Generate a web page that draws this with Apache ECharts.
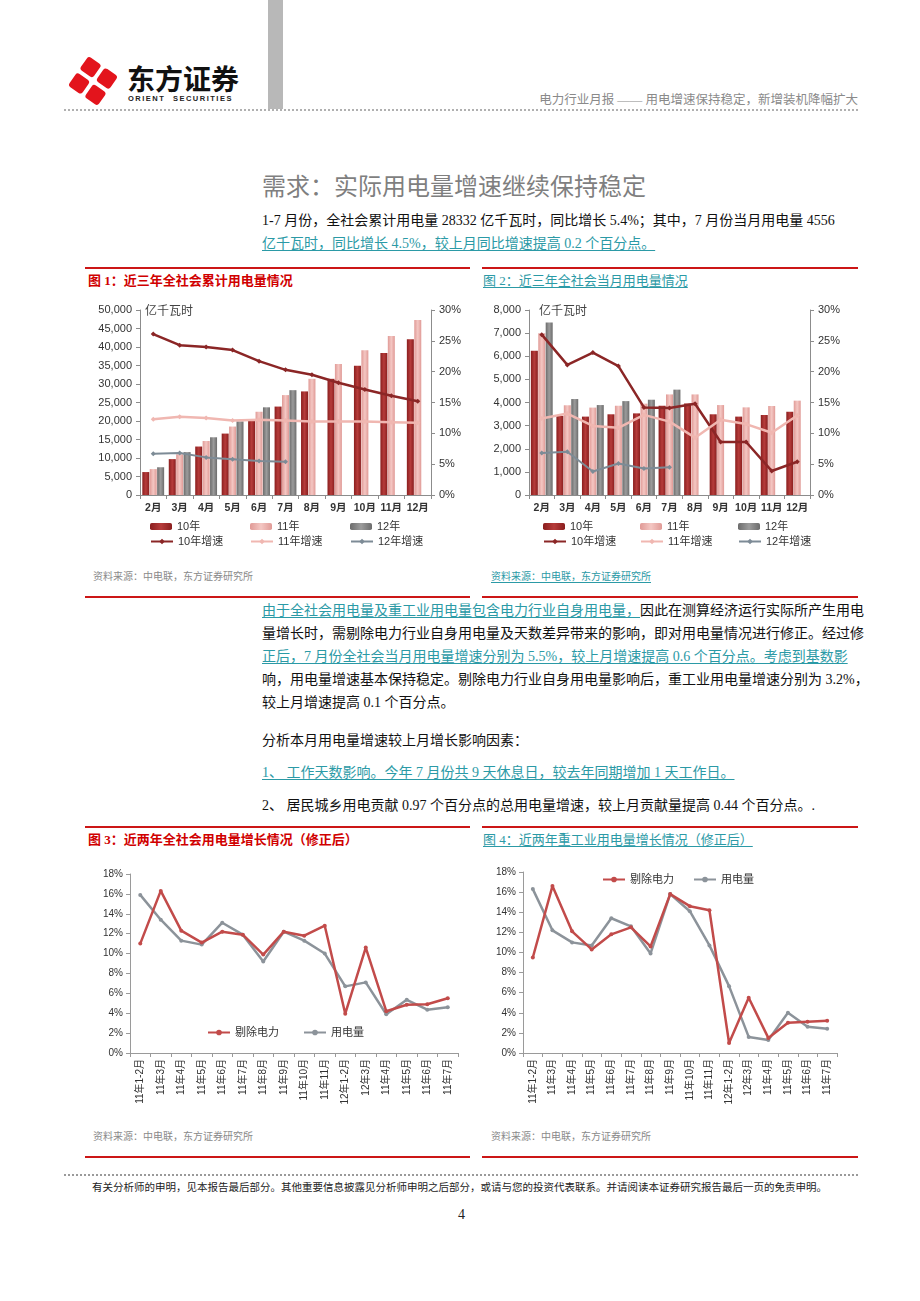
<!DOCTYPE html>
<html>
<head>
<meta charset="utf-8">
<script src="https://cdn.jsdelivr.net/npm/echarts@6/dist/echarts.min.js"></script>
<style>
html,body{margin:0;padding:0;background:#fff;}
#page{position:relative;width:920px;height:1301px;overflow:hidden;background:#fff;font-family:"Liberation Serif","Noto Sans CJK SC",serif;}
.t{position:absolute;white-space:nowrap;font-size:14px;line-height:20px;height:20px;color:#111;}
.u{color:#2B9AA6;text-decoration:underline;text-decoration-color:#2B9AA6;text-underline-offset:2px;}
.j{width:596px;text-align:justify;text-align-last:justify;}
.red{position:absolute;height:2px;background:#CC1616;}
.src{position:absolute;white-space:nowrap;font-size:10px;line-height:14px;color:#8a8a8a;}
.ft{position:absolute;white-space:nowrap;font-size:13px;line-height:20px;}
.ch{position:absolute;}
</style>
</head>
<body>
<div id="page">
  <!-- header -->
  <svg style="position:absolute;left:65px;top:53px" width="56" height="56" viewBox="0 0 56 56">
    <g transform="rotate(35 28 28)">
      <rect x="10" y="10" width="16" height="16" rx="3" fill="#E3141C"/>
      <rect x="30" y="10" width="16" height="16" rx="3" fill="#E3141C"/>
      <rect x="10" y="30" width="16" height="16" rx="3" fill="#E3141C"/>
      <rect x="30" y="30" width="16" height="16" rx="3" fill="#E3141C"/>
    </g>
  </svg>
  <div style="position:absolute;left:127px;top:61px;font-family:'Noto Sans CJK SC';font-weight:bold;font-size:28px;line-height:34px;color:#111;white-space:nowrap;">东方证券</div>
  <div style="position:absolute;left:128px;top:94px;font-family:'Liberation Sans';font-weight:bold;font-size:7.5px;line-height:9px;letter-spacing:1.5px;word-spacing:4px;color:#222;white-space:nowrap;">ORIENT SECURITIES</div>
  <div style="position:absolute;left:268px;top:0;width:15px;height:109px;background:#B8B8B8;"></div>
  <div style="position:absolute;right:62px;top:91px;font-size:12.5px;line-height:18px;color:#8a8a8a;white-space:nowrap;font-family:'Liberation Serif','Noto Sans CJK SC';">电力行业月报 —— 用电增速保持稳定，新增装机降幅扩大</div>
  <div style="position:absolute;left:64px;top:109px;width:794px;height:0;border-top:2px dotted #b0b0b0;"></div>

  <!-- title & paragraph 1 -->
  <div style="position:absolute;left:262px;top:170px;font-family:'Noto Sans CJK SC';font-size:24px;line-height:30px;color:#7f7f7f;white-space:nowrap;">需求：实际用电量增速继续保持稳定</div>
  <div class="t" style="left:262px;top:211px;">1-7 月份，全社会累计用电量 28332 亿千瓦时，同比增长 5.4%；其中，7 月份当月用电量 4556</div>
  <div class="t" style="left:262px;top:234px;"><span class="u">亿千瓦时，同比增长 4.5%，较上月同比增速提高 0.2 个百分点。</span></div>

  <div class="red" style="left:85px;top:267px;width:385px;"></div>
  <div class="red" style="left:482px;top:267px;width:376px;"></div>
  <div class="ft" style="left:88px;top:271px;color:#D00000;font-weight:bold;">图 1：近三年全社会累计用电量情况</div>
  <div class="ft" style="left:483px;top:271px;"><span class="u">图 2：近三年全社会当月用电量情况</span></div>

  <div id="c1" class="ch" style="left:88px;top:295px;width:385px;height:265px;"></div>
  <div id="c2" class="ch" style="left:480px;top:295px;width:380px;height:265px;"></div>

  <div class="src" style="left:93px;top:570px;">资料来源：中电联，东方证券研究所</div>
  <div class="src" style="left:491px;top:570px;"><span class="u">资料来源：中电联，东方证券研究所</span></div>
  <div class="red" style="left:85px;top:596px;width:385px;"></div>
  <div class="red" style="left:482px;top:596px;width:376px;"></div>

  <!-- paragraph 2 -->
  <div class="t j" style="left:262px;top:601px;"><span class="u">由于全社会用电量及重工业用电量包含电力行业自身用电量，</span>因此在测算经济运行实际所产生用电</div>
  <div class="t j" style="left:262px;top:624px;">量增长时，需剔除电力行业自身用电量及天数差异带来的影响，即对用电量情况进行修正。经过修</div>
  <div class="t" style="left:262px;top:647px;"><span class="u">正后，7 月份全社会当月用电量增速分别为 5.5%，较上月增速提高 0.6 个百分点。考虑到基数影</span></div>
  <div class="t j" style="left:262px;top:670px;">响，用电量增速基本保持稳定。剔除电力行业自身用电量影响后，重工业用电量增速分别为 3.2%，</div>
  <div class="t" style="left:262px;top:693px;">较上月增速提高 0.1 个百分点。</div>
  <div class="t" style="left:262px;top:731px;">分析本月用电量增速较上月增长影响因素：</div>
  <div class="t" style="left:262px;top:763px;"><span class="u">1、 工作天数影响。今年 7 月份共 9 天休息日，较去年同期增加 1 天工作日。</span></div>
  <div class="t" style="left:262px;top:796px;">2、 居民城乡用电贡献 0.97 个百分点的总用电量增速，较上月贡献量提高 0.44 个百分点。.</div>

  <div class="red" style="left:85px;top:826px;width:385px;"></div>
  <div class="red" style="left:482px;top:826px;width:376px;"></div>
  <div class="ft" style="left:88px;top:830px;color:#D00000;font-weight:bold;">图 3：近两年全社会用电量增长情况（修正后）</div>
  <div class="ft" style="left:483px;top:830px;"><span class="u">图 4：近两年重工业用电量增长情况（修正后）</span></div>

  <div id="c3" class="ch" style="left:88px;top:855px;width:385px;height:260px;"></div>
  <div id="c4" class="ch" style="left:480px;top:855px;width:380px;height:260px;"></div>

  <div class="src" style="left:93px;top:1130px;">资料来源：中电联，东方证券研究所</div>
  <div class="src" style="left:491px;top:1130px;">资料来源：中电联，东方证券研究所</div>
  <div class="red" style="left:85px;top:1156px;width:385px;"></div>
  <div class="red" style="left:482px;top:1156px;width:376px;"></div>

  <div style="position:absolute;left:64px;top:1174px;width:794px;height:0;border-top:2px dotted #9a9a9a;"></div>
  <div style="position:absolute;left:92px;top:1180px;font-size:10.5px;line-height:16px;color:#222;white-space:nowrap;">有关分析师的申明，见本报告最后部分。其他重要信息披露见分析师申明之后部分，或请与您的投资代表联系。并请阅读本证券研究报告最后一页的免责申明。</div>
  <div style="position:absolute;left:458px;top:1206px;font-size:14px;line-height:18px;color:#222;">4</div>
</div>

<script>
// ---------- Data ----------
const months = ['2月','3月','4月','5月','6月','7月','8月','9月','10月','11月','12月'];
// Figure 1: cumulative consumption (亿千瓦时) and cumulative growth (%)
const cum10 = [6200, 9700, 13100, 16600, 20200, 23900, 28000, 31400, 34900, 38400, 42100];
const cum11 = [7000, 11000, 14600, 18500, 22500, 27000, 31400, 35400, 39100, 43000, 47300];
const cum12 = [7500, 11600, 15600, 19900, 23700, 28332];
const cumG10 = [26.1, 24.3, 24.0, 23.5, 21.7, 20.3, 19.5, 18.2, 17.1, 16.1, 15.2];
const cumG11 = [12.3, 12.7, 12.5, 12.1, 12.2, 12.1, 11.9, 11.9, 11.9, 11.8, 11.7];
const cumG12 = [6.7, 6.8, 6.1, 5.8, 5.5, 5.4];
// Figure 2: monthly consumption (亿千瓦时) and monthly growth (%)
const mon10 = [6240, 3420, 3390, 3490, 3530, 3860, 3960, 3490, 3390, 3460, 3600];
const mon11 = [6990, 3880, 3780, 3860, 3950, 4350, 4350, 3890, 3790, 3850, 4080];
const mon12 = [7460, 4150, 3890, 4060, 4120, 4556];
const monG10 = [26.0, 21.1, 23.1, 20.9, 14.2, 14.1, 14.8, 8.6, 8.6, 3.9, 5.4];
const monG11 = [12.4, 13.2, 11.2, 10.9, 13.0, 11.9, 9.3, 12.2, 11.5, 10.1, 12.9];
const monG12 = [6.8, 7.0, 3.8, 5.1, 4.3, 4.5];
// Figures 3 & 4: corrected growth (%)
const periods = ['11年1-2月','11年3月','11年4月','11年5月','11年6月','11年7月','11年8月','11年9月','11年10月','11年11月','12年1-2月','12年3月','11年4月','11年5月','11年6月','11年7月'];
const totalExPower = [11.0, 16.3, 12.3, 11.1, 12.2, 11.9, 9.9, 12.2, 11.8, 12.8, 3.95, 10.6, 4.2, 4.85, 4.9, 5.5];
const totalRaw     = [15.9, 13.4, 11.3, 10.9, 13.1, 11.9, 9.2, 12.2, 11.3, 10.0, 6.7, 7.1, 3.9, 5.35, 4.35, 4.6];
const heavyExPower = [9.5, 16.6, 12.1, 10.3, 11.8, 12.5, 10.6, 15.8, 14.6, 14.2, 1.0, 5.5, 1.5, 3.0, 3.1, 3.2];
const heavyRaw     = [16.3, 12.2, 11.0, 10.7, 13.4, 12.6, 9.9, 15.8, 14.1, 10.7, 6.65, 1.6, 1.3, 4.0, 2.6, 2.4];
const unitLabel = '亿千瓦时';

// ---------- Helpers ----------
const FONT = '"Liberation Sans","Noto Sans CJK SC",sans-serif';
const AX = '#8c8c8c';
function grad(a, b) {
  return {type:'linear', x:0, y:0, x2:1, y2:0, colorStops:[{offset:0,color:a},{offset:0.5,color:b},{offset:1,color:a}]};
}
const C10 = grad('#8A1E1E', '#B63C3B');
const C11 = grad('#E09A96', '#F4C7C3');
const C12 = grad('#6C6C6C', '#9C9C9C');
function lg(name, left, top) {
  return {data:[name], left:left, top:top, padding:0, itemWidth:22, itemHeight:7, itemGap:0,
          selectedMode:false, textStyle:{fontSize:11, color:'#333', fontFamily:FONT}};
}
function valAxis(min, max, interval, fmt, pos) {
  return {type:'value', min:min, max:max, interval:interval, position:pos,
    axisLine:{show:true, lineStyle:{color:AX}}, axisTick:{show:true, length:4, lineStyle:{color:AX}},
    splitLine:{show:false},
    axisLabel:{formatter:fmt, fontSize:11, color:'#333', margin:8, fontFamily:FONT}};
}
function barS(name, data, color, yIdx) {
  return {type:'bar', name:name, data:data, barWidth:7, barGap:'6%', yAxisIndex:yIdx||0,
          itemStyle:{color:color}};
}
function lineS(name, data, color, w, sym, yIdx) {
  return {type:'line', name:name, data:data, yAxisIndex:yIdx, symbol:sym, symbolSize:5,
          lineStyle:{color:color, width:w}, itemStyle:{color:color}, z:5};
}
function comboOption(gridCfg, yMax, yInt, d, lgLeft, unitLeft) {
  return {
    animation:false,
    textStyle:{fontFamily:FONT},
    grid:gridCfg,
    xAxis:{type:'category', data:months, boundaryGap:true,
      axisLine:{lineStyle:{color:AX}}, axisTick:{show:true, length:4, lineStyle:{color:AX}},
      axisLabel:{interval:0, hideOverlap:false, fontSize:10.5, fontWeight:'bold', color:'#333', margin:8, fontFamily:FONT}},
    yAxis:[valAxis(0, yMax, yInt, v => v.toLocaleString('en-US'), 'left'),
           valAxis(0, 30, 5, '{value}%', 'right')],
    legend:[lg('10年', lgLeft[0], 226), lg('11年', lgLeft[1], 226), lg('12年', lgLeft[2], 226),
            lg('10年增速', lgLeft[0], 241), lg('11年增速', lgLeft[1], 241), lg('12年增速', lgLeft[2], 241)],
    graphic:[{type:'text', left:unitLeft, top:11, style:{text:unitLabel, fontSize:12, fill:'#444', fontFamily:FONT}}],
    series:[
      barS('10年', d[0], C10), barS('11年', d[1], C11), barS('12年', d[2], C12),
      lineS('10年增速', d[3], '#8B2626', 2.5, 'diamond', 1),
      lineS('11年增速', d[4], '#F0B7B1', 2.5, 'diamond', 1),
      lineS('12年增速', d[5], '#7D8B96', 2, 'diamond', 1)
    ]
  };
}
function growthOption(gridCfg, exData, rawData, lgTop, lgLefts) {
  return {
    animation:false,
    textStyle:{fontFamily:FONT},
    grid:gridCfg,
    xAxis:{type:'category', data:periods, boundaryGap:true,
      axisLine:{lineStyle:{color:'#9a9a9a'}}, axisTick:{show:true, length:4, lineStyle:{color:'#9a9a9a'}},
      axisLabel:{rotate:90, interval:0, hideOverlap:false, fontSize:10, color:'#333', margin:6, fontFamily:FONT}},
    yAxis:{type:'value', min:0, max:18, interval:2,
      axisLine:{show:true, lineStyle:{color:'#9a9a9a'}}, axisTick:{show:true, length:4, lineStyle:{color:'#9a9a9a'}},
      splitLine:{show:false},
      axisLabel:{formatter:'{value}%', fontSize:10, color:'#333', margin:7, fontFamily:FONT}},
    legend:[lg('剔除电力', lgLefts[0], lgTop), lg('用电量', lgLefts[1], lgTop)],
    series:[
      {type:'line', name:'剔除电力', data:exData, symbol:'circle', symbolSize:4,
       lineStyle:{color:'#C24B4A', width:2.5}, itemStyle:{color:'#C24B4A'}, z:6},
      {type:'line', name:'用电量', data:rawData, symbol:'circle', symbolSize:4,
       lineStyle:{color:'#8C939A', width:2.5}, itemStyle:{color:'#8C939A'}, z:5}
    ]
  };
}

echarts.init(document.getElementById('c1')).setOption(
  comboOption({left:52, right:42, top:15, bottom:65}, 50000, 5000,
    [cum10, cum11, cum12, cumG10, cumG11, cumG12], [62, 162, 262], 57));
echarts.init(document.getElementById('c2')).setOption(
  comboOption({left:49, right:50, top:15, bottom:65}, 8000, 1000,
    [mon10, mon11, mon12, monG10, monG11, monG12], [63, 160, 258], 59));
echarts.init(document.getElementById('c3')).setOption(
  growthOption({left:42, right:15, top:19, bottom:62}, totalExPower, totalRaw, 172, [119, 215]));
echarts.init(document.getElementById('c4')).setOption(
  growthOption({left:43, right:23, top:17, bottom:62}, heavyExPower, heavyRaw, 19, [122, 213]));
</script>
</body>
</html>
